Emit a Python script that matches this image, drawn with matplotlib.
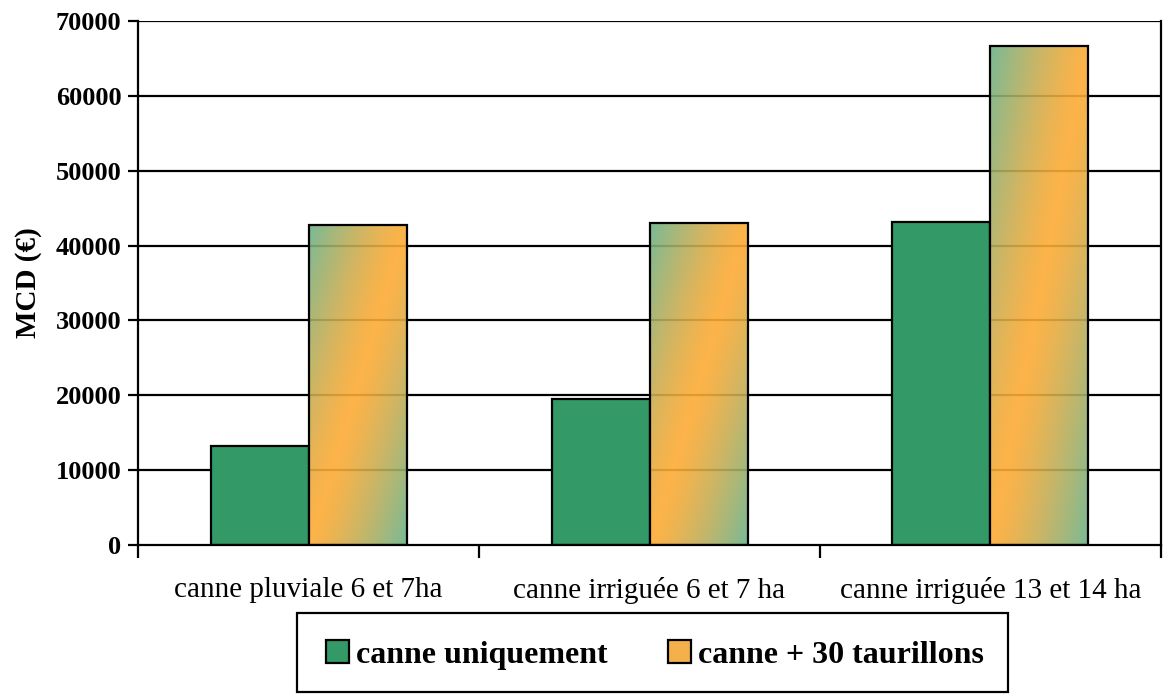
import numpy as np
import matplotlib
matplotlib.use("Agg")
import matplotlib.pyplot as plt
from matplotlib.patches import Rectangle, Patch

# data
categories = ["canne pluviale 6 et 7ha", "canne irriguée 6 et 7 ha", "canne irriguée 13 et 14 ha"]
canne_seule = [13200, 19500, 43150]
canne_taurillons = [42750, 43000, 66650]
series_names = ["canne uniquement", "canne + 30 taurillons"]
yticks = [0, 10000, 20000, 30000, 40000, 50000, 60000, 70000]

plt.rcParams["font.family"] = ["Liberation Serif", "DejaVu Serif"]

green = np.array([0x33, 0x99, 0x66]) / 255
green_light = np.array([0x6a, 0xb2, 0x8a]) / 255
orange = np.array([0xfd, 0xab, 0x34]) / 255

W, H = 1163, 695
fig = plt.figure(figsize=(W / 100, H / 100), dpi=100)
ax = fig.add_axes([138 / W, 1 - 545 / H, (1161 - 138) / W, (545 - 21) / H])

x = np.arange(len(categories))
w = 98 / 341

for t in yticks[1:]:
    ax.axhline(t, color="black", lw=1.6, zorder=1)

# plain green bars
ax.bar(x - w / 2, canne_seule, width=w, color=green, edgecolor="black", lw=1.6, zorder=2)

# gradient bars (green corners, orange diagonal)
n, m = 300, 60
for xi, h in zip(x + w / 2, canne_taurillons):
    u = np.linspace(0, 1, m)[None, :]
    v = np.linspace(1, 0, n)[:, None]
    d = np.abs(u - v) ** 1.3
    img = orange[None, None, :] * (1 - d[..., None]) + green_light[None, None, :] * d[..., None]
    alpha = np.full((n, m, 1), 0.9)
    ax.imshow(np.concatenate([img, alpha], axis=2), extent=(xi - w / 2, xi + w / 2, 0, h),
              aspect="auto", zorder=2, interpolation="bilinear")
    ax.add_patch(Rectangle((xi - w / 2, 0), w, h, fill=False, edgecolor="black", lw=1.6, zorder=3))
ax.set_xlim(-0.5, len(categories) - 0.5)
ax.set_ylim(0, 70000)
ax.set_yticks(yticks)

ax.spines["top"].set_visible(False)
for s in ["left", "right", "bottom"]:
    ax.spines[s].set_linewidth(1.6)
    ax.spines[s].set_zorder(4)

ax.set_xticks(np.arange(len(categories) + 1) - 0.5)
ax.set_xticks(x, minor=True)
ax.set_xticklabels([])
ax.set_xticklabels(categories, minor=True, fontsize=21)
ax.tick_params(axis="x", which="major", direction="out", length=9, width=1.6)
ax.tick_params(axis="x", which="minor", length=0, pad=23)
ax.tick_params(axis="y", direction="out", length=7, width=1.6, labelsize=19, pad=5)
for lab in ax.get_yticklabels():
    lab.set_fontweight("bold")
ax.set_ylabel("MCD (€)", fontsize=21, fontweight="bold", labelpad=10)

# legend box
box = Rectangle((297 / W, 1 - 692 / H), (1008 - 297) / W, (692 - 613) / H,
                transform=fig.transFigure, fill=False, edgecolor="black", lw=1.6)
fig.patches.append(box)
handles = [Patch(facecolor=green, edgecolor="black", lw=1.6),
           Patch(facecolor="#f4b04a", edgecolor="black", lw=1.6)]
fig.legend(handles, series_names, loc="center", bbox_to_anchor=(655 / W, 1 - 655 / H),
           ncol=2, frameon=False, prop={"weight": "bold", "size": 23},
           handlelength=0.72, handleheight=0.72, handletextpad=0.22, columnspacing=1.9)

fig.savefig("out.png", dpi=100)
